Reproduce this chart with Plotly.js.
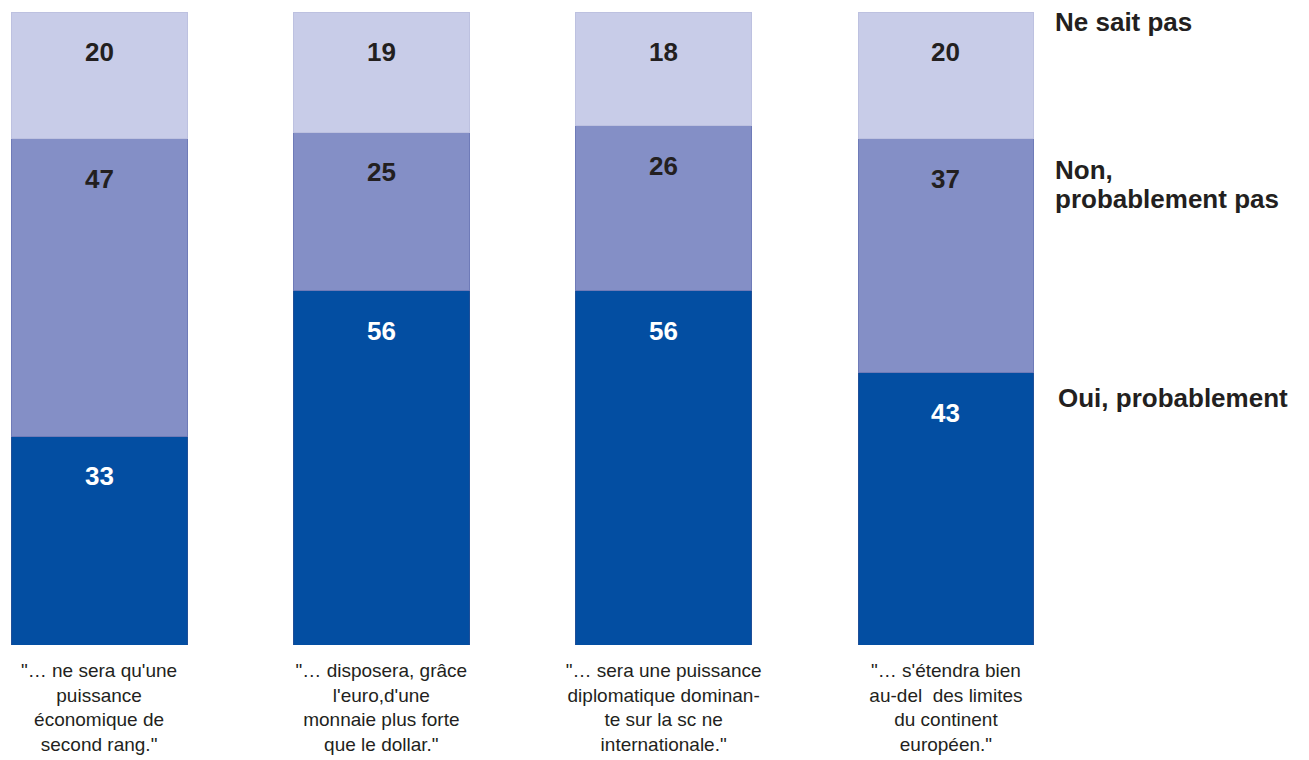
<!DOCTYPE html>
<html>
<head>
<meta charset="utf-8">
<script src="https://cdn.plot.ly/plotly-3.0.1.min.js"></script>
<style>html,body{margin:0;padding:0;background:#fff;}#chart{width:1309px;height:760px;}</style>
</head>
<body>
<div id="chart"></div>
<script>
var categories = [
  "\"… ne sera qu'une<br>puissance<br>économique de<br>second rang.\"",
  "\"… disposera, grâce<br>l'euro,d'une<br>monnaie plus forte<br>que le dollar.\"",
  "\"… sera une puissance<br>diplomatique dominan-<br>te sur la sc ne<br>internationale.\"",
  "\"… s'étendra bien<br>au-del  des limites<br>du continent<br>européen.\""
];
var seriesNames = ["Oui, probablement", "Non, probablement pas", "Ne sait pas"];
var oui = [33, 56, 56, 43];
var non = [47, 25, 26, 37];
var nsp = [20, 19, 18, 20];

var fills = ["#034EA2", "#848FC6", "#C8CCE8"];
var edges = ["#1F4F98", "#6F7BB8", "#BDC1E0"];
var textColors = ["#FFFFFF", "#231F20", "#231F20"];
var series = [oui, non, nsp];
var idx = [0, 1, 2, 3];
var FONT = "Liberation Sans, Arial, Helvetica, sans-serif";

var traces = series.map(function (vals, s) {
  return {
    type: "bar",
    x: idx,
    y: vals,
    name: seriesNames[s],
    width: 0.623,
    marker: { color: fills[s], line: { color: edges[s], width: 1 } },
    hoverinfo: "skip"
  };
});

var annotations = [];
idx.forEach(function (i) {
  var cum = 0;
  series.forEach(function (vals, s) {
    cum += vals[i];
    annotations.push({
      x: i, y: cum, xref: "x", yref: "y",
      text: "<b>" + vals[i] + "</b>",
      showarrow: false, yanchor: "middle", yshift: -40,
      font: { family: FONT, size: 26, color: textColors[s] }
    });
  });
});

// side labels (one line each), pixel positions converted to paper coords
var sideLines = [
  { text: "Ne sait pas", px: 1053, py: 22 },
  { text: "Non,", px: 1053, py: 170 },
  { text: "probablement pas", px: 1053, py: 199 },
  { text: "Oui, probablement", px: 1056, py: 398 }
];
sideLines.forEach(function (l) {
  annotations.push({
    xref: "paper", yref: "paper",
    x: (l.px - 11) / (1034 - 11), y: (645 - l.py) / (645 - 12),
    text: "<b>" + l.text + "</b>",
    showarrow: false, xanchor: "left", yanchor: "middle", align: "left",
    font: { family: FONT, size: 26, color: "#231F20" }
  });
});

var layout = {
  width: 1309, height: 760,
  margin: { l: 11, r: 275, t: 12, b: 115 },
  barmode: "stack",
  bargap: 0,
  showlegend: false,
  paper_bgcolor: "#FFFFFF",
  plot_bgcolor: "#FFFFFF",
  font: { family: FONT, color: "#231F20" },
  xaxis: {
    range: [-0.312, 3.312],
    tickmode: "array", tickvals: idx, ticktext: categories,
    ticks: "", showgrid: false, zeroline: false, showline: false,
    tickfont: { family: FONT, size: 19, color: "#231F20" }, ticklabelstandoff: 12
  },
  yaxis: {
    range: [0, 100], visible: false, showgrid: false, zeroline: false
  },
  annotations: annotations
};

Plotly.newPlot("chart", traces, layout, { displayModeBar: false, staticPlot: true });
</script>
</body>
</html>
